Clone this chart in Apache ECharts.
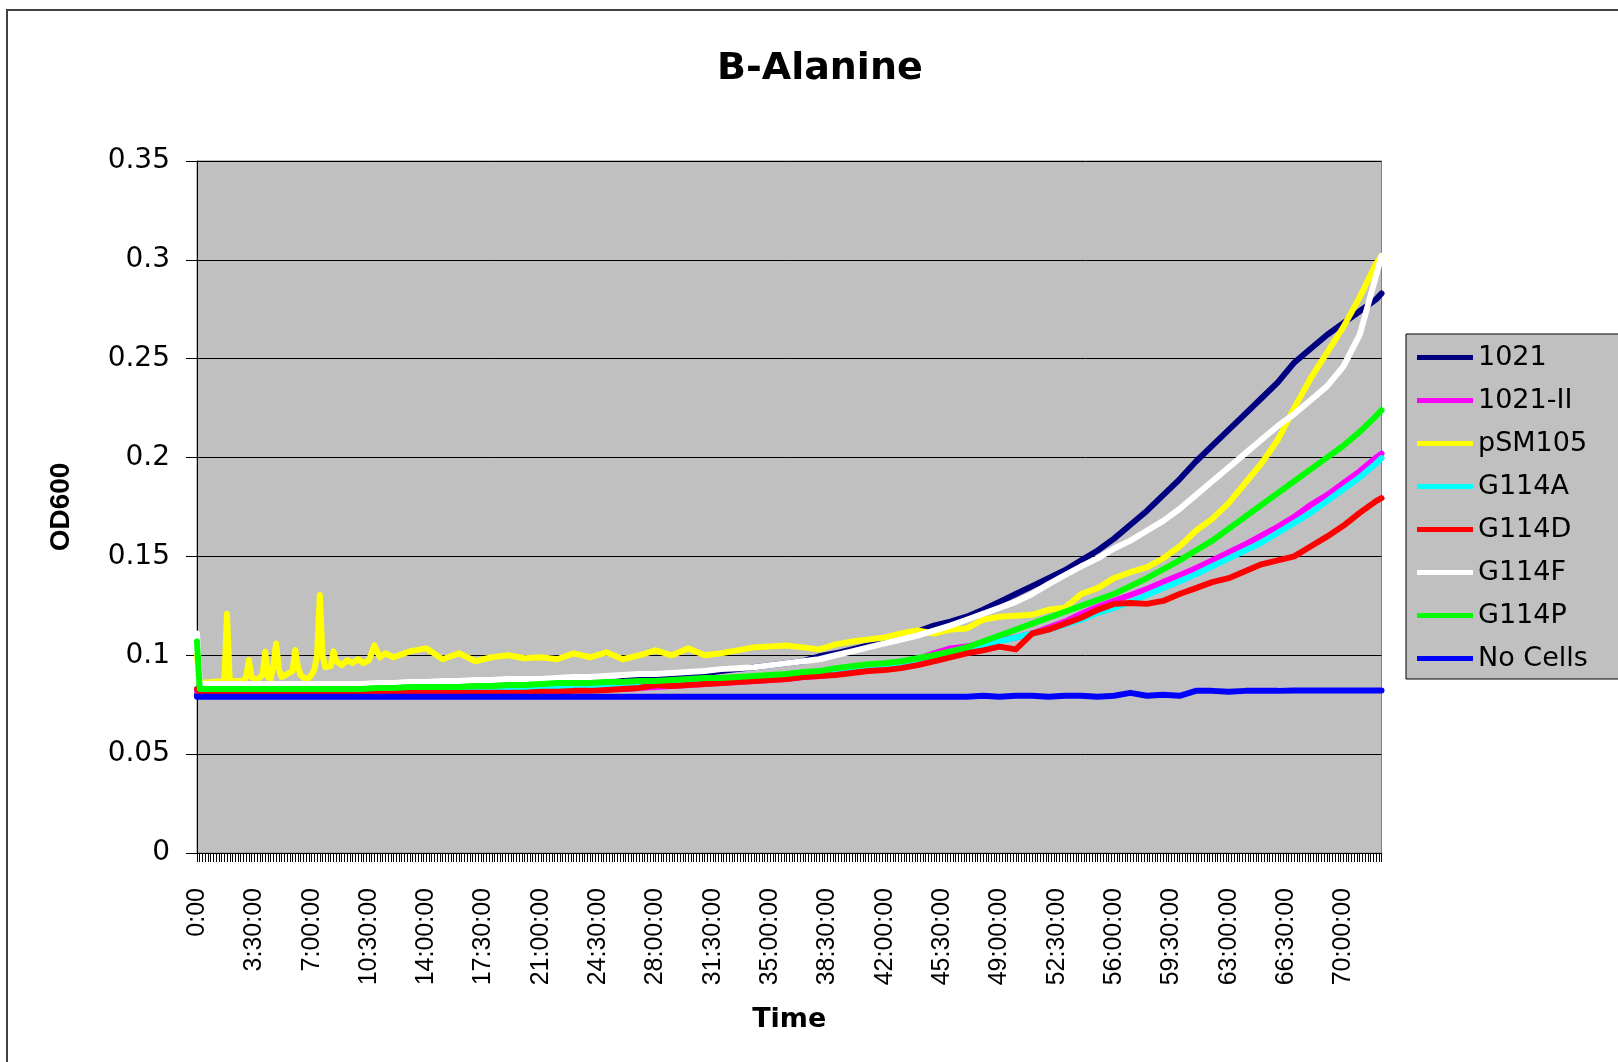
<!DOCTYPE html>
<html>
<head>
<meta charset="utf-8">
<script src="https://cdn.jsdelivr.net/npm/echarts@6/dist/echarts.min.js"></script>
<style>
html,body{margin:0;padding:0;background:#fff;}
#chart{width:1618px;height:1062px;}
</style>
</head>
<body>
<div id="chart"></div>
<script>
// Sampling grid: 0:00, 0:10, then every hour 1h..72h, then 72:20 (hours)
const sampleHours = [0, 1/6].concat(Array.from({length: 72}, (_, k) => k + 1)).concat([72 + 1/3]);

const s1021 = [0.080, 0.080,
  0.080,0.080,0.080,0.080,0.080,0.080,0.080,0.080,0.080,
  0.081,0.081,0.081,0.081,0.081,0.081,
  0.082,0.082,0.082,0.082,
  0.083,0.083,0.083,0.084,0.085,0.086,0.087,0.088,0.0885,0.089,0.0905,0.091,0.092,0.093,0.094,0.095,0.096,0.097,0.0995,0.101,
  0.103,0.105,0.107,0.1095,0.112,0.115,0.117,0.1195,0.123,0.127,0.131,0.135,0.139,0.143,0.148,0.153,0.159,0.166,0.173,0.181,
  0.189,0.198,0.206,0.214,0.222,0.230,0.238,0.248,0.255,0.262,0.268,0.274,0.280,
  0.283];

const s1021II = [0.082, 0.080,
  0.0805,0.0805,0.0805,0.0805,0.0805,0.0805,0.0805,0.0805,0.0805,0.0805,
  0.081,0.081,0.081,0.081,0.0815,0.0815,0.0815,0.0815,0.082,0.082,
  0.082,0.0825,0.0825,0.083,0.083,0.083,0.0835,0.084,0.0845,0.085,0.0855,0.086,0.0865,0.087,0.0875,0.088,0.089,0.0895,0.0905,0.0915,
  0.093,0.094,0.096,0.098,0.101,0.1035,0.1045,0.106,0.1075,0.109,0.111,0.114,0.117,0.121,0.1245,0.1275,0.1305,0.1335,0.137,0.1405,
  0.144,0.148,0.152,0.156,0.1605,0.165,0.170,0.176,0.181,0.187,0.193,0.200,
  0.202];

const sG114A = [0.083, 0.082,
  0.082,0.082,0.082,0.082,0.082,0.082,0.082,0.082,0.082,0.082,
  0.082,0.082,0.082,0.082,0.0825,0.0825,0.0825,0.083,0.083,0.083,
  0.083,0.0835,0.0835,0.084,0.084,0.0845,0.085,0.0855,0.086,0.0865,0.087,0.0875,0.088,0.0885,0.089,0.0895,0.090,0.091,0.092,0.093,
  0.0935,0.0945,0.0955,0.097,0.099,0.1005,0.1027,0.105,0.107,0.109,0.111,0.113,0.1155,0.118,0.1215,0.124,0.127,0.1305,0.134,0.1375,
  0.141,0.145,0.149,0.153,0.157,0.162,0.167,0.172,0.178,0.184,0.190,0.197,
  0.1997];

const sG114D = [0.083, 0.081,
  0.081,0.081,0.081,0.081,0.081,0.081,0.081,0.081,0.081,0.081,
  0.081,0.081,0.081,0.081,0.081,0.081,0.081,0.081,0.081,0.081,
  0.0815,0.0815,0.082,0.082,0.0825,0.083,0.0835,0.085,0.0845,0.085,0.0855,0.086,0.0865,0.087,0.0875,0.088,0.089,0.0895,0.090,0.091,
  0.092,0.0925,0.0935,0.095,0.097,0.099,0.101,0.1025,0.1044,0.103,0.111,0.113,0.116,0.119,0.123,0.126,0.1265,0.126,0.1275,0.131,
  0.134,0.137,0.139,0.1425,0.146,0.148,0.150,0.155,0.160,0.1655,0.172,0.178,
  0.1795];

const sG114F = [0.111, 0.0855,
  0.0855,0.0855,0.0855,0.0855,0.0855,0.0855,0.0855,0.0855,0.0855,0.0855,
  0.086,0.086,0.0865,0.0865,0.087,0.087,0.0875,0.0875,0.088,0.088,
  0.088,0.0885,0.089,0.089,0.0895,0.090,0.0905,0.0905,0.091,0.0915,0.092,0.093,0.0935,0.094,0.095,0.096,0.097,0.098,0.100,0.102,
  0.104,0.106,0.108,0.110,0.1125,0.115,0.118,0.121,0.124,0.127,0.131,0.136,0.1405,0.145,0.149,0.154,0.158,0.163,0.168,0.174,
  0.181,0.188,0.195,0.202,0.209,0.216,0.222,0.229,0.236,0.246,0.262,0.292,
  0.302];

const sG114P = [0.107, 0.083,
  0.083,0.083,0.083,0.083,0.083,0.083,0.083,0.083,0.083,0.083,
  0.0835,0.0835,0.084,0.084,0.084,0.084,0.0845,0.0845,0.085,0.085,
  0.0855,0.086,0.086,0.086,0.0865,0.0865,0.087,0.087,0.0875,0.088,0.0885,0.0885,0.089,0.0895,0.090,0.0905,0.0915,0.092,0.0935,0.0945,
  0.0955,0.096,0.097,0.0985,0.100,0.102,0.104,0.107,0.110,0.113,0.116,0.119,0.122,0.125,0.128,0.131,0.135,0.139,0.1435,0.148,
  0.153,0.158,0.164,0.170,0.176,0.182,0.188,0.194,0.200,0.206,0.213,0.221,
  0.224];

const sNoCells = [0.079, 0.079,
  0.079,0.079,0.079,0.079,0.079,0.079,0.079,0.079,0.079,0.079,
  0.079,0.079,0.079,0.079,0.079,0.079,0.079,0.079,0.079,0.079,
  0.079,0.079,0.079,0.079,0.079,0.079,0.079,0.079,0.079,0.079,0.079,0.079,0.079,0.079,0.079,0.079,0.079,0.079,0.079,0.079,
  0.079,0.079,0.079,0.079,0.079,0.079,0.079,0.0795,0.079,0.0795,0.0795,0.079,0.0795,0.0795,0.079,0.0795,0.081,0.0795,0.080,0.0795,
  0.082,0.082,0.0815,0.082,0.082,0.082,0.0822,0.0822,0.0822,0.0822,0.0822,0.0822,
  0.0822];

// pSM105: fine detail for the first 12 h as [10-minute index, OD600], then hourly values from 13 h
const pSM105Early = [[0,0.100],[1,0.086],[10,0.087],[11,0.121],[12,0.087],[17,0.087],[18,0.089],[19,0.0976],[20,0.089],
  [22,0.0875],[24,0.090],[25,0.1018],[26,0.089],[27,0.088],[28,0.095],[29,0.106],[30,0.093],[31,0.089],[33,0.0905],
  [35,0.092],[36,0.1027],[37,0.094],[38,0.090],[40,0.0875],[42,0.090],[43,0.093],[44,0.100],[45,0.1305],[46,0.100],
  [47,0.094],[49,0.0945],[50,0.102],[51,0.097],[53,0.095],[55,0.0975],[57,0.096],[59,0.098],[61,0.096],[63,0.0975],
  [65,0.105],[67,0.099],[69,0.101],[72,0.099]];
const pSM105Late = [0.102,0.1035,0.098,0.101,0.097,0.099,0.100,0.0985,0.099,0.098,0.101,0.099,0.1015,0.098,0.100,0.1025,0.100,0.1035,
  0.100,0.101,0.1025,0.104,0.1045,0.105,0.104,0.103,0.1055,0.107,0.108,0.109,0.111,0.1125,0.111,0.113,0.1135,0.118,0.1195,0.120,
  0.1205,0.123,0.124,0.131,0.134,0.139,0.142,0.1445,0.149,0.155,0.163,0.169,0.177,0.187,0.197,0.209,0.225,0.240,0.253,0.266,0.281,0.298,
  0.302];

const seriesNames = ['1021','1021-II','pSM105','G114A','G114D','G114F','G114P','No Cells'];
const seriesColors = ['#000080','#FF00FF','#FFFF00','#00FFFF','#FF0000','#FFFFFF','#00FF00','#0000FF'];
const yTicks = [0, 0.05, 0.1, 0.15, 0.2, 0.25, 0.3, 0.35];

// Category axis: one category every 10 minutes, 0:00 .. 72:20
const nCat = 435;
const categories = [];
for (let i = 0; i < nCat; i++) {
  if (i === 0) { categories.push('0:00'); continue; }
  const m = i * 10, h = Math.floor(m / 60), mm = m % 60;
  categories.push(h + ':' + String(mm).padStart(2, '0') + ':00');
}

const sampleIdx = sampleHours.map(h => Math.round(h * 6));
function onGrid(vals) { return vals.map((v, k) => [sampleIdx[k], v]); }
const lateIdx = sampleIdx.filter(i => i > 72);
const pSM105Data = pSM105Early.concat(lateIdx.map((i, k) => [i, pSM105Late[k]]));

const seriesData = [onGrid(s1021), onGrid(s1021II), pSM105Data, onGrid(sG114A), onGrid(sG114D), onGrid(sG114F), onGrid(sG114P), onGrid(sNoCells)];

const chart = echarts.init(document.getElementById('chart'), null, {renderer: 'canvas'});
chart.setOption({
  animation: false,
  backgroundColor: '#ffffff',
  title: {
    text: 'B-Alanine', left: 717, top: 50, padding: 0,
    textStyle: {fontFamily: 'DejaVu Sans', fontWeight: 'bold', fontSize: 38, color: '#000'}
  },
  graphic: [{
    type: 'rect', z: -10, silent: true,
    shape: {x: 7, y: 10, width: 2000, height: 2000},
    style: {fill: 'none', stroke: '#404040', lineWidth: 2}
  }],
  legend: {
    orient: 'vertical', left: 1406, top: 334,
    backgroundColor: '#C0C0C0', borderColor: '#000', borderWidth: 1,
    padding: [10, 40, 7, 11],
    icon: 'rect',
    itemWidth: 56, itemHeight: 5, itemGap: 16,
    textStyle: {fontFamily: 'DejaVu Sans', fontSize: 27, color: '#000'},
    data: seriesNames
  },
  grid: {
    left: 197, right: 236.5, top: 161, bottom: 209,
    show: true, backgroundColor: '#C0C0C0', borderColor: '#808080', borderWidth: 1
  },
  xAxis: {
    type: 'category', data: categories, boundaryGap: false,
    name: 'Time', nameLocation: 'middle', nameGap: 153,
    nameTextStyle: {fontFamily: 'DejaVu Sans', fontWeight: 'bold', fontSize: 27, color: '#000'},
    axisLine: {show: true, lineStyle: {color: '#000', width: 1}},
    axisTick: {show: true, interval: 0, length: 9, lineStyle: {color: '#000', width: 1}},
    axisLabel: {interval: 20, rotate: 90, margin: 35, fontFamily: 'Liberation Sans', fontSize: 25, color: '#000'},
    splitLine: {show: false}
  },
  yAxis: {
    type: 'value', min: 0, max: 0.35, interval: 0.05,
    name: 'OD600', nameLocation: 'middle', nameGap: 122,
    nameTextStyle: {fontFamily: 'Liberation Sans', fontWeight: 'bold', fontSize: 28, color: '#000'},
    axisLine: {show: true, lineStyle: {color: '#000', width: 1}},
    axisTick: {show: true, length: 11, lineStyle: {color: '#000', width: 1}},
    axisLabel: {margin: 27, fontFamily: 'DejaVu Sans', fontSize: 28, color: '#000',
      formatter: v => { const t = yTicks.find(x => Math.abs(x - v) < 1e-9); return String(t !== undefined ? t : v); }},
    splitLine: {show: true, lineStyle: {color: '#000', width: 1}}
  },
  series: seriesNames.map((name, k) => ({
    name, type: 'line', data: seriesData[k],
    symbol: 'none', showSymbol: false, silent: true,
    color: seriesColors[k],
    lineStyle: {color: seriesColors[k], width: 6, join: 'round', cap: 'round'},
    emphasis: {disabled: true}
  }))
});
</script>
</body>
</html>
